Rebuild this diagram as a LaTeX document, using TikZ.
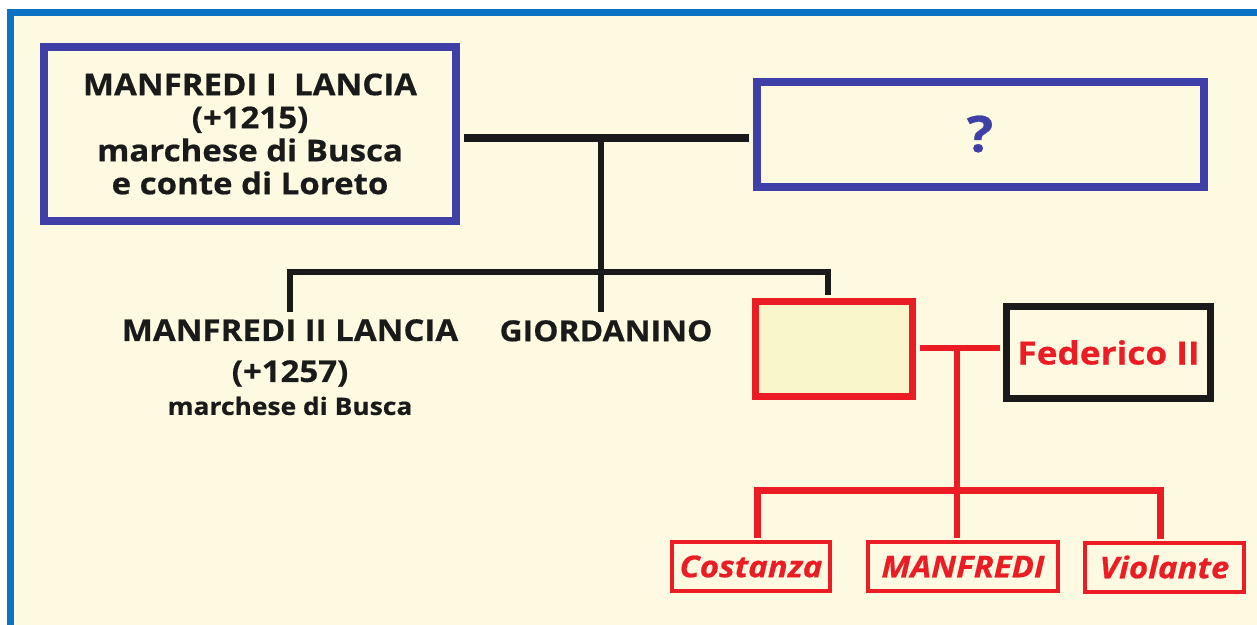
\documentclass[tikz,border=0pt]{standalone}
\usepackage{fontspec}
\setmainfont{Open Sans}[FakeStretch=1.1,BoldFeatures={FakeBold=0.5},BoldItalicFeatures={FakeBold=0.5}]
\usepackage{tikz}
\usetikzlibrary{positioning}

\definecolor{frameblue}{HTML}{0B72C4}
\definecolor{paper}{HTML}{FEF9E1}
\definecolor{boxblue}{HTML}{3F3FA8}
\definecolor{linered}{HTML}{EC1C24}
\definecolor{boxfill}{HTML}{FAF6CC}
\definecolor{ink}{HTML}{1A1A1A}

\begin{document}
\begin{tikzpicture}
[x=1pt,y=-1pt,font=\bfseries,inner sep=0pt,line join=miter]
  \tikzstyle{bluebox}=[draw=boxblue,line width=8pt,fill=paper]
  \tikzstyle{nametext}=[align=center,text=ink]
  \tikzstyle{kidbox}=[draw=linered,line width=4pt,fill=paper,text=linered,minimum height=49pt,font=\bfseries\itshape\fontsize{30}{30}\selectfont]
  \tikzstyle{blackline}=[draw=ink,line width=6pt]
  \tikzstyle{redline}=[draw=linered,line width=6pt]

  \useasboundingbox (0,0) rectangle (1257,624);
  \fill[white] (0,0) rectangle (1257,624);
  \draw[frameblue,line width=7pt,fill=paper] (10.5,12.5) rectangle (1290,660);

  % first generation
  \node[bluebox,nametext,minimum width=412pt,minimum height=174pt,font=\bfseries\fontsize{30}{33}\selectfont] (m1) at (250,134) {MANFREDI I\ \ LANCIA\\(+1215)\\marchese di Busca\\e conte di Loreto};
  \node[bluebox,minimum width=447pt,minimum height=105pt,text=boxblue,font=\bfseries\fontsize{50}{50}\selectfont] (q) at (980,134) {\raisebox{-5pt}{?}};
  \coordinate (marr) at (601,138);
  \coordinate (fork) at (601,272);

  % second generation
  \node[nametext,anchor=north,inner ysep=7pt,font=\bfseries\fontsize{30}{41}\selectfont] (m2) at (290,312) {MANFREDI II LANCIA\\(+1257)\\[-8pt]{\fontsize{24}{25}\selectfont marchese di Busca}};
  \node[nametext,anchor=north,inner ysep=8pt,font=\bfseries\fontsize{29}{29}\selectfont] (giord) at (606,312) {GIORDANINO};
  \node[draw=linered,line width=7pt,fill=boxfill,minimum width=157pt,minimum height=95pt] (sis) at (834,349) {};
  \node[draw=ink,line width=7pt,fill=paper,minimum width=204pt,minimum height=92pt,text=linered,font=\bfseries\fontsize{32}{32}\selectfont] (fed) at (1108.5,352.5) {Federico II};
  \coordinate (wed) at (957,348);
  \coordinate (kids) at (957,490);

  % third generation
  \node[kidbox,minimum width=158pt] (cost) at (751,566.5) {Costanza};
  \node[kidbox,minimum width=190pt] (manf) at (963,566.5) {MANFREDI};
  \node[kidbox,minimum width=159pt] (viol) at (1164.5,567) {Violante};

  \draw[blackline,line width=8pt,shorten <=4pt,shorten >=3.5pt] (m1.east |- marr) -- (q.west |- marr);
  \draw[blackline] (marr) -- (giord.north -| marr);
  \draw[blackline,shorten >=3.5pt] (m2.north) |- (fork) -| ([xshift=-6pt]sis.north);
  \draw[redline,shorten <=3.5pt,shorten >=3.5pt] (sis.east |- wed) -- (fed.west |- wed);
  \draw[redline] (wed) -- (kids);
  \draw[redline,line width=7pt,shorten <=2pt,shorten >=2pt] ([xshift=6pt]cost.north) |- (kids) -| ([xshift=-4pt]viol.north);
  \draw[redline,shorten >=2pt] (kids) -- (kids |- manf.north);
\end{tikzpicture}
\end{document}
